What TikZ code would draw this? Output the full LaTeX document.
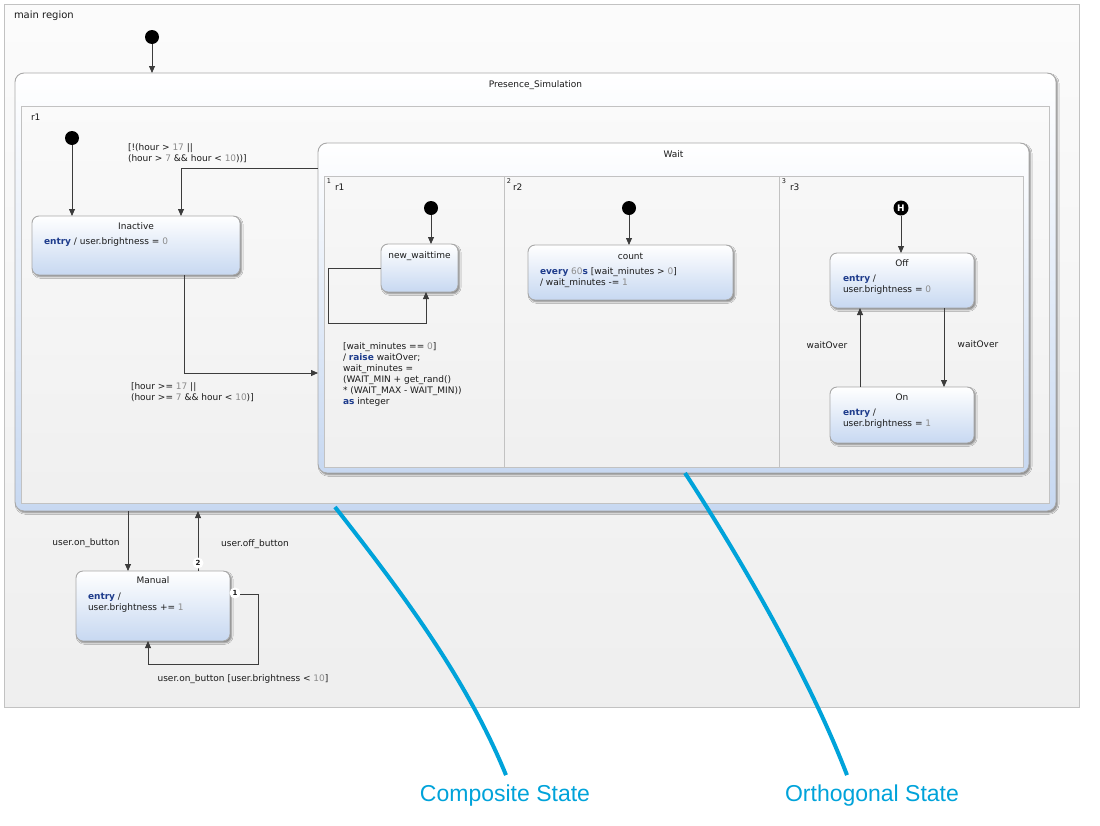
\documentclass[tikz,border=0pt]{standalone}
\usepackage{fontspec}
\setmainfont{DejaVu Sans}
\newfontfamily\calloutfont{Liberation Sans}
\usetikzlibrary{arrows.meta,calc,shadows.blur}

\definecolor{ink}{HTML}{1A1A1A}
\definecolor{kwblue}{HTML}{1E3C8C}
\definecolor{numgray}{HTML}{8C8C8C}
\definecolor{edgegray}{HTML}{3C3C3C}
\definecolor{stateframe}{HTML}{A8A8A8}
\definecolor{regframe}{HTML}{C2C2C2}
\definecolor{stateblue}{HTML}{C7D8F1}
\definecolor{callblue}{HTML}{00A3DA}

\newcommand\kw[1]{{\color{kwblue}\bfseries #1}}
\newcommand\nv[1]{{\color{numgray}#1}}

\tikzset{
  lbl/.style={inner sep=0pt, outer sep=0pt, align=left, text=ink},
  one/.style={lbl, text height=6.5pt, text depth=2pt},
  region/.style={draw=regframe, line width=0.8pt, top color=black!3, bottom color=black!6,
    inner sep=0pt, outer sep=0pt, anchor=north west},
  mainregion/.style={region, top color=black!1.5, bottom color=black!6.5},
  statebox/.style={draw=stateframe, line width=0.9pt, rounded corners=7pt,
    top color=white, bottom color=stateblue, inner sep=0pt, outer sep=0pt, anchor=north west,
    blur shadow={shadow xshift=1.6pt, shadow yshift=-1.8pt, shadow blur steps=4,
      shadow blur radius=1.5pt, shadow opacity=45}},
  compbox/.style={statebox, rounded corners=9pt, top color=white, bottom color=stateblue},
  pseudo/.style={circle, fill=black, minimum size=14pt, inner sep=0pt},
  histstate/.style={pseudo, minimum size=15pt, text=white, font=\fontsize{9}{9}\selectfont\bfseries},
  badge/.style={circle, fill=white, minimum size=11pt, inner sep=0pt, text=ink,
    font=\fontsize{7}{7}\selectfont\bfseries},
  trans/.style={draw=edgegray, line width=0.8pt, -{Triangle[length=7pt,width=6pt]}},
  divider/.style={draw=regframe, line width=0.8pt},
  callout/.style={draw=callblue, line width=4pt},
  callouttext/.style={text=callblue, font=\calloutfont\fontsize{23}{26}\selectfont, inner sep=0pt},
}

\begin{document}
\begin{tikzpicture}[x=1pt, y=-1pt, font=\fontsize{9}{11}\selectfont]
\useasboundingbox (0,0) rectangle (1100,825);
\fill[white] (0,0) rectangle (1100,825);

% main region
\node[mainregion, minimum width=1075pt, minimum height=703pt] (main) at (4,4) {};
\node[one, anchor=west, font=\fontsize{10}{12}\selectfont] (mainlbl) at (14,16) {main region};
\node[pseudo] (init0) at (152,37) {};

% composite state Presence_Simulation
\node[compbox, minimum width=1041pt, minimum height=438pt] (presence) at (15,73) {};
\node[one] (ptitle) at ($(presence.north)+(0,12)$) {Presence\_Simulation};
\node[region, top color=black!2, bottom color=black!6, minimum width=1028pt, minimum height=397pt] (r1reg) at (21,106) {};
\node[one, anchor=west] (r1lbl) at ($(r1reg.north west)+(10,12)$) {r1};

\node[pseudo] (initr1) at (72,138) {};

% Inactive
\node[statebox, minimum width=208pt, minimum height=59pt] (inactive) at (32,216) {};
\node[one] (inacttitle) at ($(inactive.north)+(0,11)$) {Inactive};
\node[lbl, anchor=north west] (inactbody) at ($(inactive.north west)+(12,21.5)$) {\kw{entry} / user.brightness = \nv{0}};

% orthogonal state Wait
\node[compbox, minimum width=711pt, minimum height=330pt] (wait) at (318,143) {};
\node[one] (waittitle) at ($(wait.north)+(0,12)$) {Wait};
\node[region, top color=black!3, bottom color=black!6, minimum width=699pt, minimum height=291pt] (wreg) at (324,176) {};
\draw[divider] ($(wreg.north west)+(180,0)$) -- ($(wreg.south west)+(180,0)$);
\draw[divider] ($(wreg.north west)+(455,0)$) -- ($(wreg.south west)+(455,0)$);
\node[lbl, font=\fontsize{6.5}{7}\selectfont] (idx1) at ($(wreg.north west)+(5,5)$) {1};
\node[one, anchor=west] (wr1) at ($(wreg.north west)+(11,12)$) {r1};
\node[lbl, font=\fontsize{6.5}{7}\selectfont] (idx2) at ($(wreg.north west)+(185,5)$) {2};
\node[one, anchor=west] (wr2) at ($(wreg.north west)+(189,12)$) {r2};
\node[lbl, font=\fontsize{6.5}{7}\selectfont] (idx3) at ($(wreg.north west)+(460,5)$) {3};
\node[one, anchor=west] (wr3) at ($(wreg.north west)+(466,12)$) {r3};

% Wait / r1
\node[pseudo] (initw1) at (431,208) {};
\node[statebox, minimum width=77pt, minimum height=48pt] (newwait) at (381,244) {};
\node[one] (newwaittitle) at ($(newwait.north)+(0,12)$) {new\_waittime};

% Wait / r2
\node[pseudo] (initw2) at (629,208) {};
\node[statebox, minimum width=205pt, minimum height=55pt] (count) at (528,245) {};
\node[one] (counttitle) at ($(count.north)+(0,12)$) {count};
\node[lbl, anchor=north west] (countbody) at ($(count.north west)+(12,22.5)$)
  {\kw{every} \nv{60}\kw{s} [wait\_minutes > \nv{0}]\\/ wait\_minutes -= \nv{1}};

% Wait / r3
\node[histstate] (hist) at (901,208) {H};
\node[statebox, minimum width=144pt, minimum height=55pt] (off) at (830,253) {};
\node[one] (offtitle) at ($(off.north)+(0,11)$) {Off};
\node[lbl, anchor=north west] (offbody) at ($(off.north west)+(13,21.5)$)
  {\kw{entry} /\\user.brightness = \nv{0}};
\node[statebox, minimum width=144pt, minimum height=56pt] (on) at (830,387) {};
\node[one] (ontitle) at ($(on.north)+(0,11)$) {On};
\node[lbl, anchor=north west] (onbody) at ($(on.north west)+(13,21.5)$)
  {\kw{entry} /\\user.brightness = \nv{1}};

% Manual
\node[statebox, minimum width=154pt, minimum height=70pt] (manual) at (76,571) {};
\node[one] (manualtitle) at ($(manual.north)+(0,10)$) {Manual};
\node[lbl, anchor=north west] (manualbody) at ($(manual.north west)+(12,21.5)$)
  {\kw{entry} /\\user.brightness += \nv{1}};

% transitions
\draw[trans] (init0) -- (init0 |- presence.north);
\draw[trans] (initr1) -- (initr1 |- inactive.north);
\draw[trans] ($(wait.north west)+(0,25)$) -| ($(inactive.north west)+(149,0)$);
\draw[trans] ($(inactive.south west)+(152,0)$) |- ($(wait.north west)+(0,230)$);
\draw[trans] (initw1) -- (initw1 |- newwait.north);
\draw[trans] (newwait.west) -- ++(-53,0) |- ($(newwait.south west)+(45,31)$) -- ($(newwait.south west)+(45,0)$);
\draw[trans] (initw2) -- (initw2 |- count.north);
\draw[trans] (hist) -- (hist |- off.north);
\draw[trans] ($(off.south west)+(114,0)$) -- ($(on.north west)+(114,0)$);
\draw[trans] ($(on.north west)+(30,0)$) -- ($(off.south west)+(30,0)$);
\draw[trans] ($(presence.south west)+(113,0)$) -- ($(manual.north west)+(52,0)$);
\draw[trans] ($(manual.north west)+(122,0)$) -- ($(presence.south west)+(183,0)$);
\draw[trans] ($(manual.north east)+(0,23)$) -- ++(28,0) |- ($(manual.south west)+(72,23)$) -- ($(manual.south west)+(72,0)$);
\node[badge] (badge2) at ($(manual.north west)+(122,-8)$) {2};
\node[badge] (badge1) at ($(manual.north east)+(5,22)$) {1};

% transition labels
\node[lbl, anchor=north west] (guardin) at (128,143.4)
  {[!(hour > \nv{17} ||\\(hour > \nv{7} \&\& hour < \nv{10}))]};
\node[lbl, anchor=north west] (guardout) at (131,382.4)
  {[hour >= \nv{17} ||\\(hour >= \nv{7} \&\& hour < \nv{10})]};
\node[lbl, anchor=north west] (looplbl) at (343,342.4)
  {[wait\_minutes == \nv{0}]\\/ \kw{raise} waitOver;\\wait\_minutes =\\(WAIT\_MIN + get\_rand()\\{}* (WAIT\_MAX - WAIT\_MIN))\\\kw{as} integer};
\node[one] (wo1) at (978,345) {waitOver};
\node[one] (wo2) at (827,346) {waitOver};
\node[one] (onbtn) at (86,543) {user.on\_button};
\node[one] (offbtn) at (255,544) {user.off\_button};
\node[one] (onbtn2) at (243,679) {user.on\_button [user.brightness < \nv{10}]};

% callouts
\node[callouttext] (complbl) at (505,796) {Composite State};
\node[callouttext] (orthlbl) at (872,796) {Orthogonal State};
\draw[callout] ($(presence.south west)+(320,-4)$) .. controls +(65,83) and +(-40,-98) .. ($(complbl.north)+(1,-10)$);
\draw[callout] ($(wait.south west)+(367,0)$) .. controls +(45,69) and +(-40,-105) .. ($(orthlbl.north)+(-25,-10)$);
\end{tikzpicture}
\end{document}
